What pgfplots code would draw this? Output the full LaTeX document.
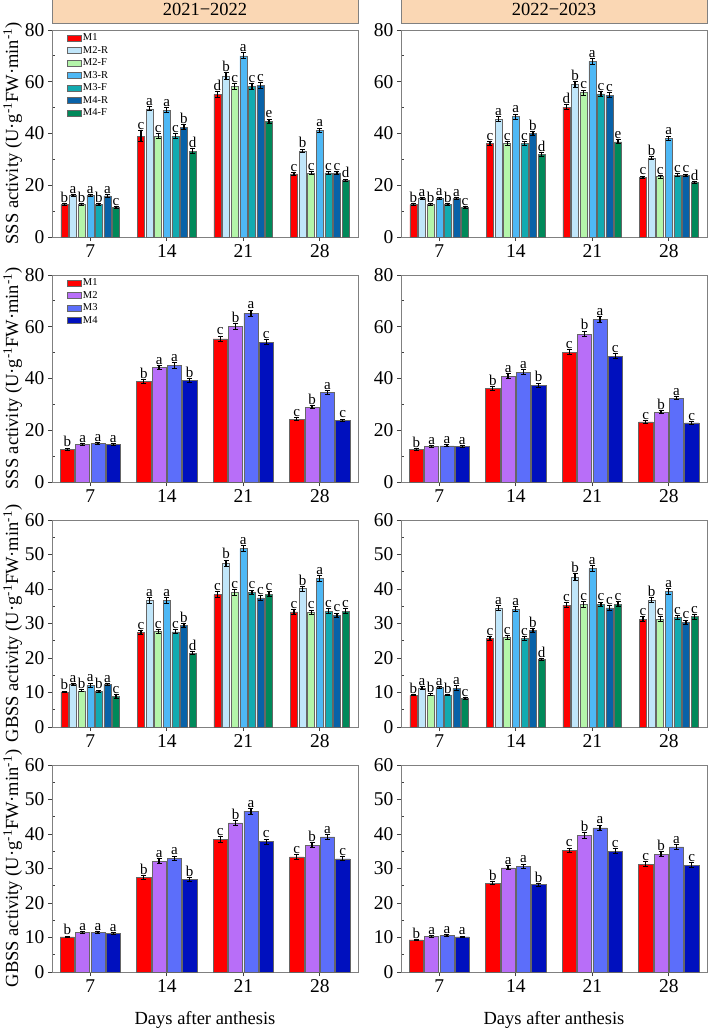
\documentclass[border=0pt]{standalone}
\usepackage{fontspec}
\setmainfont{Liberation Serif}
\usepackage{pgfplots}
\usepackage{pgfplotstable}
\pgfplotsset{compat=1.18}

% treatment colours
\definecolor{cM1}{RGB}{255,0,0}
\definecolor{cM2R}{RGB}{192,230,250}
\definecolor{cM2F}{RGB}{180,245,170}
\definecolor{cM3R}{RGB}{78,184,245}
\definecolor{cM3F}{RGB}{18,170,176}
\definecolor{cM4R}{RGB}{8,98,168}
\definecolor{cM4F}{RGB}{0,137,90}
\definecolor{cM2}{RGB}{184,110,248}
\definecolor{cM3}{RGB}{92,110,250}
\definecolor{cM4}{RGB}{0,16,190}
\definecolor{peach}{RGB}{250,215,180}
\definecolor{axisgray}{RGB}{128,128,128}

% SSS, 2021-2022, root/flower split
\pgfplotstableread{
x M1 eM1 lM1 M2R eM2R lM2R M2F eM2F lM2F M3R eM3R lM3R M3F eM3F lM3F M4R eM4R lM4R M4F eM4F lM4F
1 12.5 0.3 b 16.1 0.4 a 12.6 0.4 b 16.1 0.4 a 12.5 0.3 b 15.9 0.5 a 11.4 0.3 c
2 39.0 2.0 c 49.5 0.8 a 39.0 1.0 c 49.0 0.9 a 39.0 1.0 c 42.5 0.8 b 33.2 0.9 d
3 55.1 1.2 d 62.2 1.2 b 58.2 1.2 c 70.0 1.2 a 58.2 1.1 c 58.6 1.2 c 44.7 0.9 e
4 24.4 0.6 c 33.3 0.7 b 24.6 0.6 c 41.3 0.8 a 24.8 0.5 c 24.8 0.5 c 21.9 0.5 d
}\sssA
% SSS, 2022-2023, root/flower split
\pgfplotstableread{
x M1 eM1 lM1 M2R eM2R lM2R M2F eM2F lM2F M3R eM3R lM3R M3F eM3F lM3F M4R eM4R lM4R M4F eM4F lM4F
1 12.5 0.3 b 14.8 0.4 a 12.6 0.4 b 15.0 0.4 a 12.5 0.3 b 14.8 0.4 a 11.4 0.3 c
2 36.1 0.9 c 45.5 0.9 a 36.1 0.8 c 46.5 1.0 a 36.2 0.8 c 40.0 0.8 b 32.0 0.7 d
3 50.2 1.0 d 59.0 1.1 b 55.8 1.0 c 67.9 1.2 a 55.3 1.0 c 54.8 1.0 c 36.8 0.8 e
4 23.0 0.5 c 30.5 0.6 b 23.3 0.5 c 38.2 0.8 a 23.9 0.5 c 23.8 0.5 c 21.0 0.5 d
}\sssB
% SSS, 2021-2022, treatment means
\pgfplotstableread{
x M1 eM1 lM1 M2 eM2 lM2 M3 eM3 lM3 M4 eM4 lM4
1 12.7 0.4 b 14.5 0.4 a 14.9 0.4 a 14.4 0.4 a
2 38.8 0.9 b 44.2 0.9 a 45.0 1.0 a 39.2 0.9 b
3 55.3 1.1 c 60.1 1.1 b 65.2 1.2 a 54.0 0.9 c
4 24.3 0.6 c 28.9 0.6 b 34.6 0.8 a 23.8 0.5 c
}\sssC
% SSS, 2022-2023, treatment means
\pgfplotstableread{
x M1 eM1 lM1 M2 eM2 lM2 M3 eM3 lM3 M4 eM4 lM4
1 12.6 0.4 b 13.8 0.4 a 14.0 0.4 a 13.8 0.4 a
2 36.1 0.8 b 40.9 0.9 a 42.4 0.9 a 37.4 0.8 b
3 50.2 1.0 c 57.2 1.1 b 62.8 1.2 a 48.6 0.9 c
4 23.2 0.5 c 27.0 0.6 b 32.4 0.7 a 22.9 0.5 c
}\sssD
% GBSS, 2021-2022, root/flower split
\pgfplotstableread{
x M1 eM1 lM1 M2R eM2R lM2R M2F eM2F lM2F M3R eM3R lM3R M3F eM3F lM3F M4R eM4R lM4R M4F eM4F lM4F
1 10.2 0.2 b 12.25 0.3 a 10.5 0.3 b 12.1 0.6 a 10.4 0.3 b 12.25 0.3 a 8.9 0.6 c
2 27.4 0.6 c 36.7 0.8 a 27.7 0.6 c 36.7 0.8 a 27.6 0.6 c 29.4 0.6 b 21.4 0.4 d
3 38.4 0.8 c 47.5 0.9 b 39.0 0.8 c 51.7 0.9 a 39.0 0.7 c 37.4 0.7 c 38.5 0.7 c
4 33.4 0.7 c 40.1 0.7 b 33.3 0.6 c 43.0 0.8 a 33.6 0.7 c 32.3 0.7 c 33.6 0.7 c
}\gbssA
% GBSS, 2022-2023, root/flower split
\pgfplotstableread{
x M1 eM1 lM1 M2R eM2R lM2R M2F eM2F lM2F M3R eM3R lM3R M3F eM3F lM3F M4R eM4R lM4R M4F eM4F lM4F
1 9.2 0.2 b 11.3 0.3 a 9.3 0.3 b 11.4 0.3 a 9.3 0.2 b 11.2 0.7 a 8.3 0.2 c
2 25.7 0.6 c 34.4 0.7 a 25.9 0.6 c 34.1 0.7 a 25.7 0.5 c 28.0 0.6 b 19.6 0.3 d
3 35.3 0.8 c 43.5 0.9 b 35.5 0.8 c 46.0 0.9 a 35.5 0.7 c 34.5 0.7 c 35.6 0.7 c
4 31.3 0.7 c 36.7 0.7 b 31.3 0.6 c 39.3 0.8 a 31.8 0.6 c 30.4 0.6 c 32.0 0.7 c
}\gbssB
% GBSS, 2021-2022, treatment means
\pgfplotstableread{
x M1 eM1 lM1 M2 eM2 lM2 M3 eM3 lM3 M4 eM4 lM4
1 10.2 0.2 b 11.4 0.3 a 11.5 0.3 a 11.2 0.2 a
2 27.4 0.6 b 32.1 0.7 a 33.0 0.6 a 26.8 0.5 b
3 38.4 0.8 c 43.2 0.8 b 46.6 0.8 a 37.8 0.7 c
4 33.4 0.7 c 36.7 0.7 b 39.2 0.7 a 32.8 0.6 c
}\gbssC
% GBSS, 2022-2023, treatment means
\pgfplotstableread{
x M1 eM1 lM1 M2 eM2 lM2 M3 eM3 lM3 M4 eM4 lM4
1 9.3 0.2 b 10.3 0.2 a 10.6 0.2 a 10.2 0.2 a
2 25.8 0.5 b 30.2 0.6 a 30.7 0.6 a 25.3 0.4 b
3 35.2 0.7 c 39.6 0.8 b 41.8 0.8 a 35.0 0.7 c
4 31.3 0.6 c 34.1 0.7 b 36.3 0.7 a 31.0 0.6 c
}\gbssD

\newcommand{\fs}[1]{\fontsize{#1}{#1}\selectfont}

\pgfplotsset{
  panel/.style={
    scale only axis, width=306pt, height=207pt,
    xmin=0.5, xmax=4.5, ymin=0,
    xtick={1,2,3,4}, xticklabels={7,14,21,28},
    xtick pos=bottom, ytick pos=left,
    minor y tick num=1,
    tick align=outside,
    major tick length=4pt, minor tick length=3pt,
    minor y tick style={xshift=3pt},
    tick style={draw=black!75, line width=0.8pt},
    axis line style={draw=axisgray, line width=0.9pt},
    ticklabel style={font=\fs{19.5}},
    /pgf/number format/assume math mode=true,
    label style={font=\fs{18.5}},
    ylabel style={at={(axis description cs:-0.128,0.5)}, anchor=center},
    xlabel style={yshift=-12pt},
    legend cell align=left,
    legend style={at={(0.045,0.995)}, anchor=north west, draw=none, fill=none,
      font=\fs{10.5}, row sep=1.1pt, inner sep=1pt,
      nodes={inner sep=1.5pt}},
    clip=false,
  },
  sss/.style={panel, ymax=80, ytick={0,20,40,60,80},
    ylabel={SSS activity (U·g\textsuperscript{-1}FW·min\textsuperscript{-1})}},
  gbss/.style={panel, ymax=60, ytick={0,10,20,30,40,50,60},
    ylabel={GBSS activity (U·g\textsuperscript{-1}FW·min\textsuperscript{-1})}},
  yeartitle/.style={title={#1},
    title style={at={(0.5,1)}, anchor=south, draw=axisgray, line width=0.8pt,
      fill=peach, minimum width=306pt, minimum height=28pt, inner sep=0pt,
      font=\fs{18.5}}},
  boxlegend/.style={legend image code/.code={%
    \draw[##1,/tikz/.cd,yshift=-3pt] (0pt,0pt) rectangle (14pt,6pt);}},
  seven/.style={ybar=1.6pt, bar width=7pt, boxlegend},
  four/.style={ybar=1.1pt, bar width=14.2pt, boxlegend},
}

% one bar series: column name, fill colour, table
\newcommand{\bars}[3]{%
  \addplot[fill=#2, draw=black!60, line width=0.5pt,
    visualization depends on={\thisrow{e#1} \as \err},
    point meta=explicit symbolic,
    nodes near coords,
    nodes near coords style={font=\fs{15}, anchor=south, inner sep=0.8pt,
      yshift={\err*\ppu}},
    error bars/y dir=both, error bars/y explicit,
    error bars/error bar style={black, line width=1.3pt},
    error bars/error mark options={rotate=90, mark size=2.5pt, line width=1pt, black}]
  table[x=x, y=#1, y error=e#1, meta=l#1] {#3};%
}
\newcommand{\sevenbars}[1]{%
  \bars{M1}{cM1}{#1}\bars{M2R}{cM2R}{#1}\bars{M2F}{cM2F}{#1}\bars{M3R}{cM3R}{#1}%
  \bars{M3F}{cM3F}{#1}\bars{M4R}{cM4R}{#1}\bars{M4F}{cM4F}{#1}}
\newcommand{\fourbars}[1]{%
  \bars{M1}{cM1}{#1}\bars{M2}{cM2}{#1}\bars{M3}{cM3}{#1}\bars{M4}{cM4}{#1}}

\begin{document}
\begin{tikzpicture}[x=1pt, y=1pt]
\useasboundingbox (0,0) rectangle (712,-1032);

% row 1: SSS, split treatments
\def\ppu{2.5875}
\begin{axis}[sss, seven, yeartitle={2021−2022}, at={(52pt,-237pt)}, anchor=south west,
  legend entries={M1,M2-R,M2-F,M3-R,M3-F,M4-R,M4-F}]
\sevenbars{\sssA}
\end{axis}
\begin{axis}[sss, seven, ylabel={}, yeartitle={2022−2023}, at={(401pt,-237pt)}, anchor=south west]
\sevenbars{\sssB}
\end{axis}

% row 2: SSS, treatment means
\begin{axis}[sss, four, at={(52pt,-482pt)}, anchor=south west,
  legend entries={M1,M2,M3,M4}]
\fourbars{\sssC}
\end{axis}
\begin{axis}[sss, four, ylabel={}, at={(401pt,-482pt)}, anchor=south west]
\fourbars{\sssD}
\end{axis}

% row 3: GBSS, split treatments
\def\ppu{3.45}
\begin{axis}[gbss, seven, at={(52pt,-727pt)}, anchor=south west]
\sevenbars{\gbssA}
\end{axis}
\begin{axis}[gbss, seven, ylabel={}, at={(401pt,-727pt)}, anchor=south west]
\sevenbars{\gbssB}
\end{axis}

% row 4: GBSS, treatment means
\begin{axis}[gbss, four, xlabel={Days after anthesis}, at={(52pt,-972pt)}, anchor=south west]
\fourbars{\gbssC}
\end{axis}
\begin{axis}[gbss, four, ylabel={}, xlabel={Days after anthesis}, at={(401pt,-972pt)}, anchor=south west]
\fourbars{\gbssD}
\end{axis}
\end{tikzpicture}
\end{document}
